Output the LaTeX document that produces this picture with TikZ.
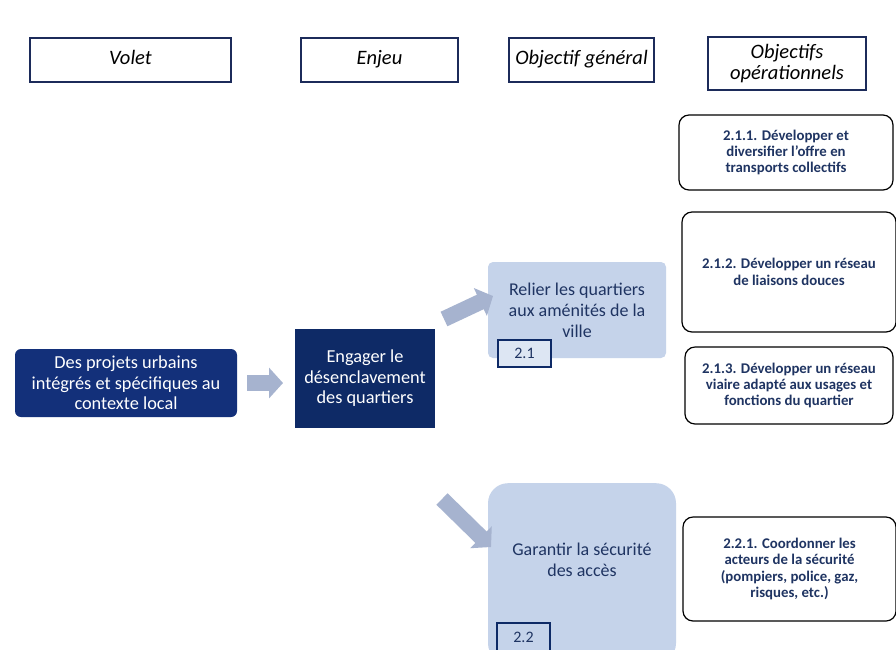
\documentclass[tikz,border=0pt]{standalone}
\usepackage{fontspec}
\setmainfont{Carlito}
\usetikzlibrary{arrows.meta}
\definecolor{navy}{HTML}{0E2A66}
\definecolor{navyb}{HTML}{13307A}
\definecolor{navytxt}{HTML}{1F3462}
\definecolor{lightb}{HTML}{C5D3EA}
\definecolor{lightc}{HTML}{DDE6F3}
\definecolor{arrowc}{HTML}{A6B3CF}
\definecolor{hdrline}{HTML}{1C2B5A}
\tikzset{
  hdr/.style={draw=hdrline, line width=2pt, fill=white, align=center, inner sep=0pt,
    font=\fontsize{20.5}{21}\selectfont\itshape},
  hdrone/.style={hdr, text height=13pt, text depth=3pt},
  darkbox/.style={fill=navy, text=white, align=center, inner sep=0pt,
    font=\fontsize{18.3}{20.5}\selectfont},
  lightbox/.style={fill=lightb, text=navytxt, align=center, inner sep=0pt,
    font=\fontsize{18}{21}\selectfont},
  numbox/.style={draw=navy, line width=2pt, text=navytxt, inner sep=0pt,
    font=\fontsize{16}{18}\selectfont},
  opbox/.style={draw=black, line width=1.2pt, fill=white, rounded corners=10pt,
    text=navytxt, align=center, inner sep=0pt,
    font=\fontsize{14.8}{16.3}\selectfont\bfseries},
  blockarrow/.style={draw=arrowc, line width=16pt,
    -{Triangle[length=14pt,width=30pt,fill=arrowc]}}
}
\begin{document}
\begin{tikzpicture}[x=1pt,y=-1pt]
\clip (0,0) rectangle (896,649);
\fill[white] (0,0) rectangle (896,649);
% headers
\node[hdrone, minimum width=201pt, minimum height=44pt] (hvolet) at (130.5,59.5) {Volet};
\node[hdrone, minimum width=157pt, minimum height=44pt] (henjeu) at (379.5,59.5) {Enjeu};
\node[hdrone, minimum width=145pt, minimum height=44pt] (hobj) at (581.5,59.5) {Objectif général};
\node[hdr, minimum width=158pt, minimum height=53pt] (hop) at (787,63.5) {Objectifs\\opérationnels};
% volet and enjeu
\node[darkbox, fill=navyb, rounded corners=6pt, minimum width=222pt, minimum height=68pt] (volet) at (126,383)
  {Des projets urbains\\intégrés et spécifiques au\\contexte local};
\node[darkbox, minimum width=140pt, minimum height=99pt] (enjeu) at (365,378.5)
  {Engager le\\désenclavement\\des quartiers};
% objectifs generaux
\node[lightbox, rounded corners=5pt, minimum width=178pt, minimum height=96pt] (og1) at (577,310)
  {Relier les quartiers\\aux aménités de la\\ville};
\node[numbox, fill=lightc, minimum width=53pt, minimum height=27pt] (n1) at (524.5,353.5) {2.1};
\node[lightbox, rounded corners=20pt, minimum width=188pt, minimum height=180pt, anchor=north] (og2box) at (582,483) {};
\node[lightbox] (og2) at (582,560) {Garantir la sécurité\\des accès};
\node[numbox, fill=lightb, minimum width=53pt, minimum height=34pt, anchor=north] (n2) at (523.5,622) {};
\node[text=navytxt, font=\fontsize{16}{18}\selectfont] (n2t) at (523.5,637) {2.2};
% objectifs operationnels
\node[opbox, minimum width=214pt, minimum height=75pt] (op1) at (786,152.5)
  {2.1.1. Développer et\\diversifier l'offre en\\transports collectifs};
\node[opbox, minimum width=214pt, minimum height=120pt] (op2) at (789,272)
  {2.1.2. Développer un réseau\\de liaisons douces};
\node[opbox, minimum width=208pt, minimum height=77pt] (op3) at (789,385.5)
  {2.1.3. Développer un réseau\\viaire adapté aux usages et\\fonctions du quartier};
\node[opbox, minimum width=213pt, minimum height=104pt] (op4) at (789.5,569)
  {2.2.1. Coordonner les\\acteurs de la sécurité\\(pompiers, police, gaz,\\risques, etc.)};
% arrows
\coordinate (a1s) at (247,383);
\coordinate (a1e) at (283,383);
\coordinate (a2s) at (444,319);
\coordinate (a2e) at (493,296);
\coordinate (a3s) at (442,499);
\coordinate (a3e) at (491,547);
\draw[blockarrow] (a1s) -- (a1e);
\draw[blockarrow] (a2s) -- (a2e);
\draw[blockarrow] (a3s) -- (a3e);
\end{tikzpicture}
\end{document}
